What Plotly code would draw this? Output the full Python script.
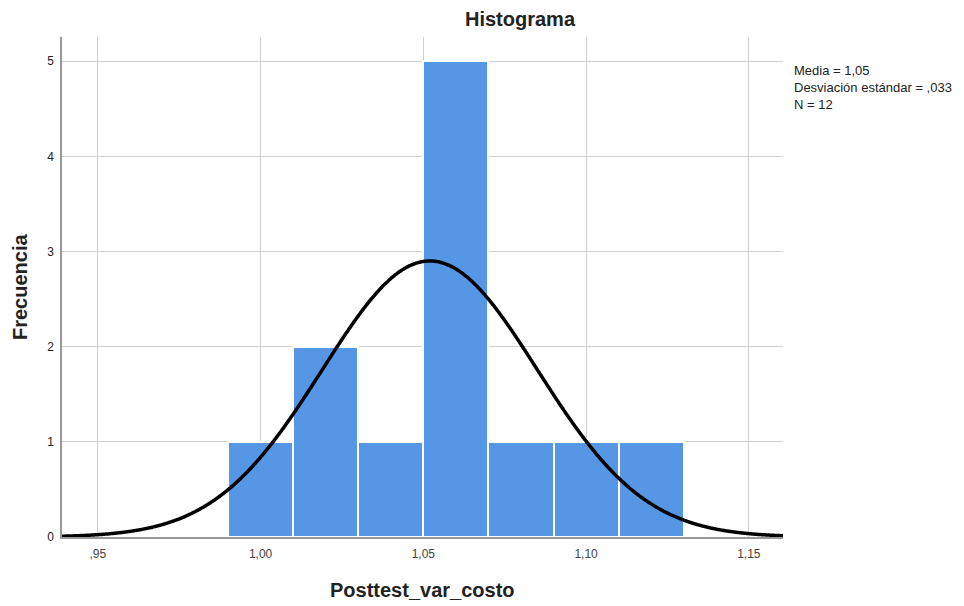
"""Histograma SPSS con curva normal"""
import numpy as np
import plotly.graph_objects as go

# Datos
bin_edges = [0.99, 1.01, 1.03, 1.05, 1.07, 1.09, 1.11, 1.13]
counts = [1, 2, 1, 5, 1, 1, 1]
media = 1.052
desv = 0.033
n = 12
x_ticks = [0.95, 1.00, 1.05, 1.10, 1.15]
x_ticklabels = [",95", "1,00", "1,05", "1,10", "1,15"]
y_ticks = [0, 1, 2, 3, 4, 5]
lineas_stats = ["Media = 1,05", "Desviación estándar = ,033", f"N = {n}"]

ancho = bin_edges[1] - bin_edges[0]
centros = [(a + b) / 2 for a, b in zip(bin_edges[:-1], bin_edges[1:])]

# Curva normal escalada a frecuencias
xc = np.linspace(0.939, 1.1605, 600)
yc = n * ancho / (desv * np.sqrt(2 * np.pi)) * np.exp(-0.5 * ((xc - media) / desv) ** 2)

fig = go.Figure()
fig.add_trace(go.Bar(
    x=centros, y=counts, width=ancho,
    marker=dict(color="#5596E5", line=dict(color="white", width=2)),
    hoverinfo="y",
))
fig.add_trace(go.Scatter(
    x=xc, y=yc, mode="lines",
    line=dict(color="black", width=3.5, shape="spline"),
    hoverinfo="skip",
))

# la página tiene 8px de margen en body
fig.update_layout(
    width=956, height=598,
    margin=dict(l=54, r=181, t=29, b=69),
    paper_bgcolor="white", plot_bgcolor="white",
    showlegend=False,
    font=dict(family="Liberation Sans, Arial", size=12, color="#333"),
    bargap=0,
    xaxis=dict(
        range=[0.939, 1.1605], tickvals=x_ticks, ticktext=x_ticklabels,
        showgrid=True, gridcolor="#cfcfcf", gridwidth=1,
        showline=True, linecolor="#999", linewidth=1.5,
        zeroline=False, ticks="", ticklen=0, ticklabelstandoff=5,
        tickfont=dict(size=12, color="#444"),
    ),
    yaxis=dict(
        range=[0, 5.255], tickvals=y_ticks,
        showgrid=True, gridcolor="#cfcfcf", gridwidth=1,
        showline=True, linecolor="#999", linewidth=1.5,
        zeroline=False, ticks="", ticklabelstandoff=4,
        tickfont=dict(size=12, color="#222"),
    ),
)

fig.add_annotation(
    text="<b>Histograma</b>", xref="paper", yref="paper",
    x=(520 - 62) / 721, y=1, yshift=18, showarrow=False,
    font=dict(size=20, color="#222"), xanchor="center", yanchor="middle",
)
fig.add_annotation(
    text="<b>Frecuencia</b>", xref="paper", yref="paper",
    x=0, xshift=-42, y=0.5, textangle=-90, showarrow=False,
    font=dict(size=20, color="#222"), xanchor="center", yanchor="middle",
)
fig.add_annotation(
    text="<b>Posttest_var_costo</b>", xref="paper", yref="paper",
    x=0.5, y=0, yshift=-53, showarrow=False,
    font=dict(size=20, color="#222"), xanchor="center", yanchor="middle",
)
fig.add_annotation(
    text="<br>".join(lineas_stats), xref="paper", yref="paper",
    x=1, xshift=9, y=1, yshift=-24,
    showarrow=False, align="left", xanchor="left", yanchor="top",
    font=dict(size=13, color="#222"),
)

fig.write_html("out.html")
